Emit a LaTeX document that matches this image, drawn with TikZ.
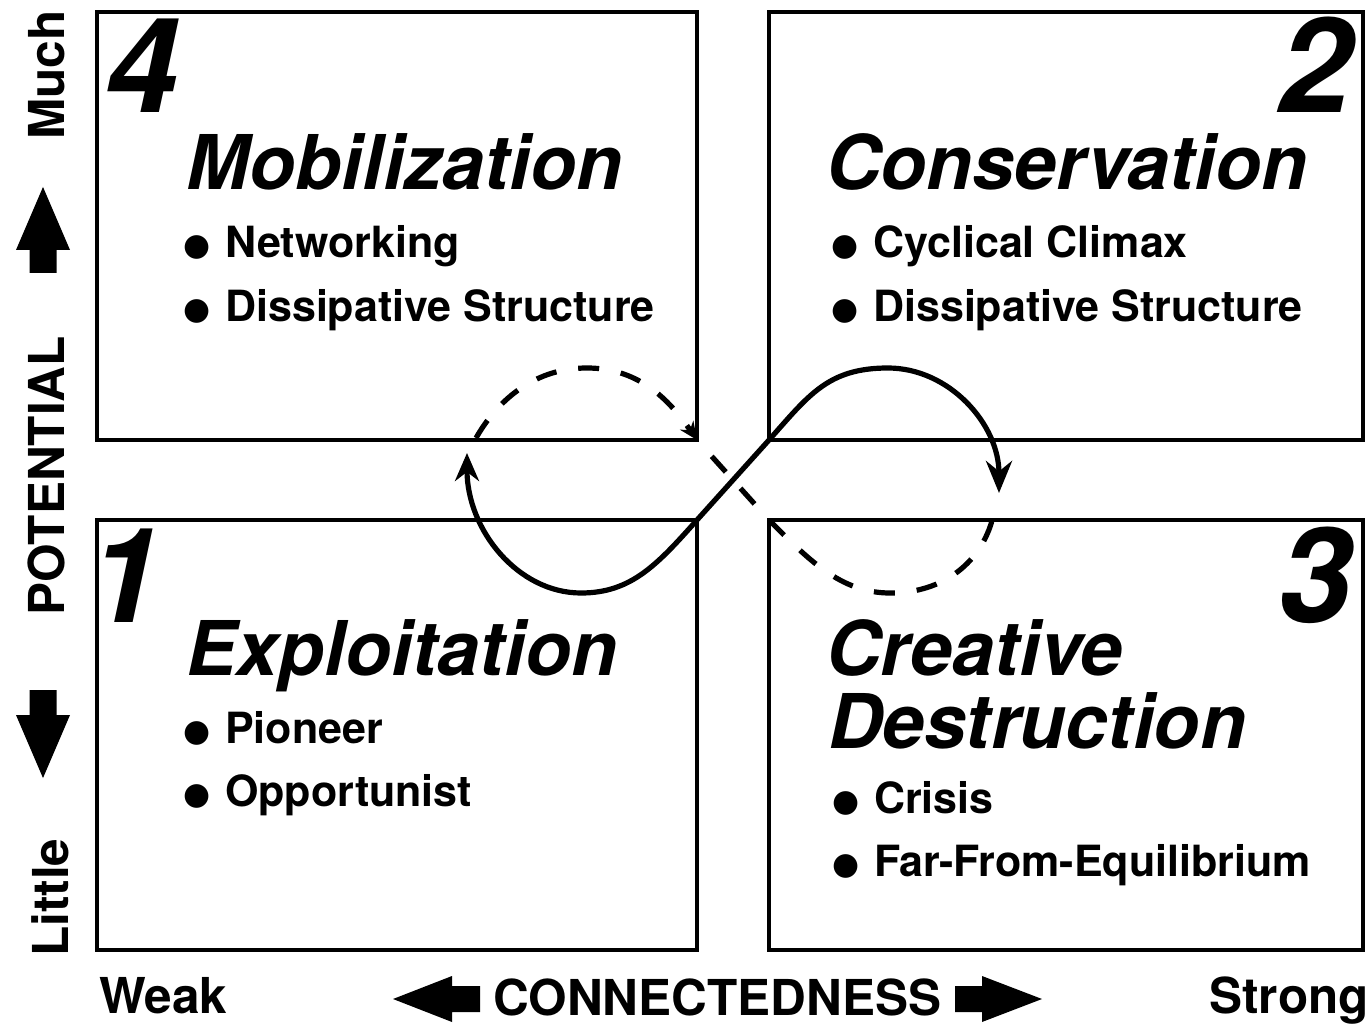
\documentclass[tikz,border=0pt]{standalone}
\usepackage{fontspec}
\setmainfont{TeX Gyre Heros}
\newfontfamily\symfont{DejaVu Sans}
\usetikzlibrary{arrows.meta}
\newcommand\bul{\makebox[20pt][c]{\raisebox{2pt}{\symfont\fontsize{31}{31}\selectfont ●}}\hspace{18pt}}
\tikzset{
  quad/.style={draw, line width=4.4pt, inner sep=0pt, outer sep=0pt, anchor=north west},
  num/.style={font=\fontsize{132}{132}\selectfont\bfseries\itshape, inner sep=0pt},
  title/.style={font=\fontsize{75.5}{80}\selectfont\bfseries\itshape, inner sep=0pt, anchor=base west},
  item/.style={font=\fontsize{43}{46}\selectfont\bfseries, inner sep=0pt, anchor=base west},
  axis/.style={font=\fontsize{49.5}{52}\selectfont\bfseries, inner sep=0pt},
  flow/.style={line width=5.2pt},
  dashline/.style={line width=5.2pt, dash pattern=on 21pt off 22pt},
}
\begin{document}
\begin{tikzpicture}[x=1pt,y=-1pt]
\useasboundingbox (0,0) rectangle (1371,1024);
% quadrants
\node[quad, minimum width=600pt, minimum height=428pt] (q4) at (97,12) {};
\node[quad, minimum width=594pt, minimum height=428pt] (q2) at (769,12) {};
\node[quad, minimum width=600pt, minimum height=430pt] (q1) at (97,520) {};
\node[quad, minimum width=594pt, minimum height=430pt] (q3) at (769,520) {};
% numbers
\node[num, anchor=base west] (n4) at (105,113) {4};
\node[num, anchor=base east] (n2) at (1352,113) {2};
\node[num, anchor=base west] (n1) at (88,622) {1};
\node[num, anchor=base east] (n3) at (1352,622) {3};
% box 4
\node[title] (t4) at (186,190) {Mobilization};
\node[item] (i4a) at (187,258) {\bul Networking};
\node[item] (i4b) at (187,322) {\bul Dissipative Structure};
% box 2
\node[title] (t2) at (826,190) {Conservation};
\node[item] (i2a) at (835,258) {\bul Cyclical Climax};
\node[item] (i2b) at (835,322) {\bul Dissipative Structure};
% box 1
\node[title] (t1) at (186,675) {Exploitation};
\node[item] (i1a) at (187,743) {\bul Pioneer};
\node[item] (i1b) at (187,806) {\bul Opportunist};
% box 3
\node[title] (t3a) at (826,675) {Creative};
\node[title] (t3b) at (828,748) {Destruction};
\node[item] (i3a) at (836,813) {\bul Crisis};
\node[item] (i3b) at (836,876) {\bul Far-From-Equilibrium};
% axes labels
\node[axis, anchor=base west] (weak) at (99,1013) {Weak};
\node[axis, anchor=base east] (strong) at (1369,1013) {Strong};
\node[axis, anchor=base west] (conn) at (493,1015) {CONNECTEDNESS};
\node[axis, rotate=90, anchor=base west] (much) at (64,140) {Much};
\node[axis, rotate=90, anchor=base] (pot) at (64,476) {POTENTIAL};
\node[axis, rotate=90, anchor=base west] (little) at (68,957) {Little};
% block arrows
\fill (43,187) -- (70,250) -- (56.5,250) -- (56.5,273) -- (29.5,273) -- (29.5,250) -- (16,250) -- cycle;
\fill (43,778) -- (70,715) -- (56.5,715) -- (56.5,690) -- (29.5,690) -- (29.5,715) -- (16,715) -- cycle;
\fill (393,999) -- (452,976) -- (452,986) -- (480,986) -- (480,1012) -- (452,1012) -- (452,1022) -- cycle;
\fill (1042,999) -- (982,976) -- (982,986) -- (955,986) -- (955,1012) -- (982,1012) -- (982,1022) -- cycle;
% cycle curves
\coordinate (s0) at (467,453);
\coordinate (s1) at (581,593);
\coordinate (s2) at (888,368);
\coordinate (s3) at (999,493);
\coordinate (d0) at (476,438);
\coordinate (d1) at (587,368);
\coordinate (d2) at (890,593);
\coordinate (d3) at (993,517);
\draw[flow, {Stealth[length=28pt,width=24pt]}-{Stealth[length=32pt,width=26pt]}]
  (s0) .. controls (467,530) and (518,593) .. (s1)
       .. controls (631,593) and (657,565) .. (q1.north east)
       -- (q2.south west)
       .. controls (809,395) and (828,368) .. (s2)
       .. controls (949,368) and (999,424) .. (s3);
\draw[dashline, -{Stealth[length=18pt,width=16pt]}]
  (d0) .. controls (496,403) and (532,368) .. (d1)
       .. controls (642,368) and (672,404) .. (q4.south east);
\draw[dashline, dash phase=21pt]
  (q4.south east) -- (q3.north west)
       .. controls (807,558) and (840,593) .. (d2)
       .. controls (945,593) and (982,561) .. (d3);
\end{tikzpicture}
\end{document}
